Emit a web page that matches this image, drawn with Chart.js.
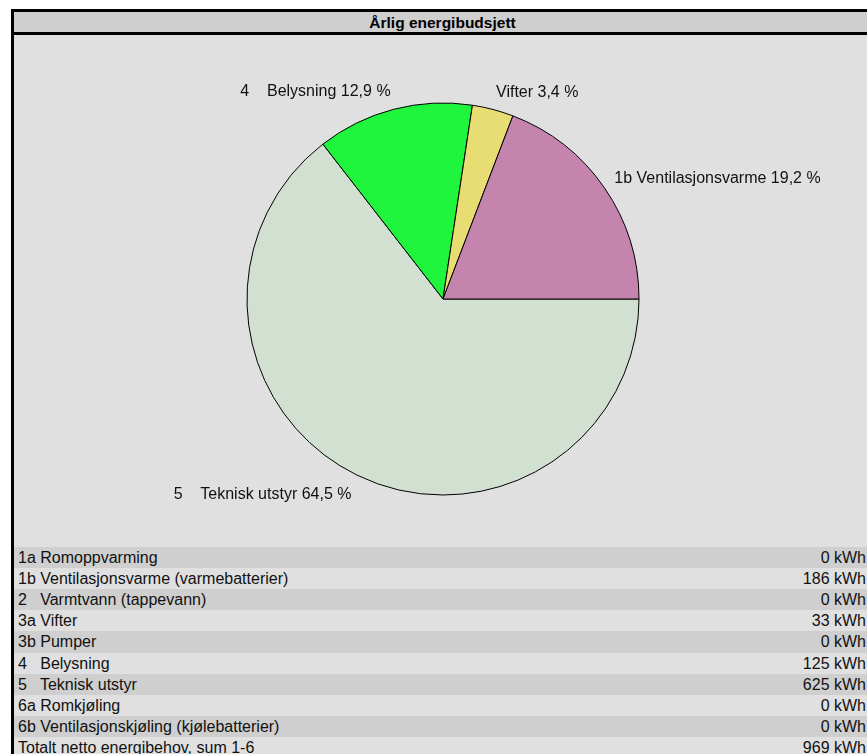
<!DOCTYPE html>
<html>
<head>
<meta charset="utf-8">
<script src="https://cdn.jsdelivr.net/npm/chart.js@4.4.0/dist/chart.umd.min.js"></script>
<style>
  html, body { margin: 0; background: #fff; font-family: "Liberation Sans", Arial, sans-serif; overflow: hidden; width: 867px; height: 754px; }
  #panel { position: absolute; left: 11px; top: 9px; width: 880px; height: 760px;
           border-left: 3px solid #000; border-top: 3px solid #000; background: #e0e0e0; }
  #title { height: 20px; line-height: 21px; background: #cfcfcf; border-bottom: 3px solid #000;
           text-align: center; font-weight: bold; font-size: 15.5px; color: #000; padding-right: 23px; }
  #chartBox { position: absolute; left: 0; top: 23px; width: 853px; height: 511px; }
  #table { position: absolute; left: 0; top: 534.7px; width: 853px; }
  .row { height: 21.2px; line-height: 21.2px; font-size: 16px; color: #111; display: flex;
         justify-content: space-between; padding: 0 1px 0 4px; white-space: pre; box-sizing: border-box; }
  .row:nth-child(odd) { background: #cfcfcf; }
  .row:nth-child(even) { background: #e0e0e0; }
</style>
</head>
<body>
<div id="panel">
  <div id="title">Årlig energibudsjett</div>
  <div id="chartBox"><canvas id="budgetChart" width="853" height="511"></canvas></div>
  <div id="table"></div>
</div>
<script>
// energy posts and yearly kWh
const posts = [
    "1a Romoppvarming",
    "1b Ventilasjonsvarme (varmebatterier)",
    "2   Varmtvann (tappevann)",
    "3a Vifter",
    "3b Pumper",
    "4   Belysning",
    "5   Teknisk utstyr",
    "6a Romkjøling",
    "6b Ventilasjonskjøling (kjølebatterier)"
];
const kwh = [0, 186, 0, 33, 0, 125, 625, 0, 0];
const totalLabel = "Totalt netto energibehov, sum 1-6";

// pie labels and colours for the posts that have a value
const pieLabels = {
    1: "1b Ventilasjonsvarme",
    3: "Vifter",
    5: "4    Belysning",
    6: "5    Teknisk utstyr"
};
const pieColors = {
    1: "#c584ae",
    3: "#e8dd72",
    5: "#1ef53c",
    6: "#d2e0d2"
};

const total = kwh.reduce((a, b) => a + b, 0);

// table under the chart
const table = document.getElementById('table');
posts.concat([totalLabel]).forEach((name, i) => {
    const value = i < posts.length ? kwh[i] : total;
    const row = document.createElement('div');
    row.className = 'row';
    row.innerHTML = '<span>' + name + '</span><span>' + value + ' kWh</span>';
    table.appendChild(row);
});

// pie goes clockwise from 3 o'clock, so feed the slices in reverse order
const idx = kwh.map((v, i) => i).filter(i => kwh[i] > 0).reverse();
const sliceNames = idx.map(i => pieLabels[i]);
const sliceValues = idx.map(i => kwh[i]);
const sliceColors = idx.map(i => pieColors[i]);

const outsideLabels = {
    id: 'outsideLabels',
    afterDatasetsDraw(chart) {
        const ctx = chart.ctx;
        const meta = chart.getDatasetMeta(0);
        ctx.save();
        ctx.font = '16px "Liberation Sans", Arial, sans-serif';
        ctx.fillStyle = '#111';
        ctx.textBaseline = 'middle';
        meta.data.forEach((arc, i) => {
            const mid = (arc.startAngle + arc.endAngle) / 2;
            const x = arc.x + Math.cos(mid) * (arc.outerRadius + 12);
            const y = arc.y + Math.sin(mid) * (arc.outerRadius + 20) + 2;
            const pct = (sliceValues[i] / total * 100).toFixed(1).replace('.', ',');
            ctx.textAlign = Math.cos(mid) >= 0 ? 'left' : 'right';
            ctx.fillText(sliceNames[i] + ' ' + pct + ' %', x, y);
        });
        ctx.restore();
    }
};

new Chart(document.getElementById('budgetChart').getContext('2d'), {
    type: 'pie',
    data: {
        labels: sliceNames,
        datasets: [{
            data: sliceValues,
            backgroundColor: sliceColors,
            borderColor: '#000',
            borderWidth: 1
        }]
    },
    options: {
        responsive: false,
        animation: false,
        rotation: 90,
        radius: 196,
        layout: { padding: { left: 5, right: 0, top: 17, bottom: 0 } },
        plugins: {
            legend: { display: false },
            tooltip: { enabled: false }
        }
    },
    plugins: [outsideLabels]
});
</script>
</body>
</html>
